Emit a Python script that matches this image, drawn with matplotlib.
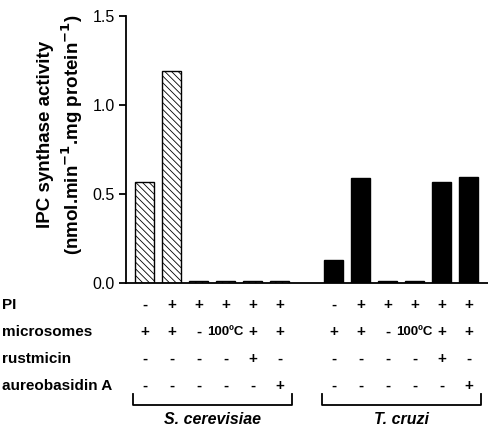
import matplotlib
matplotlib.use("Agg")
import matplotlib.pyplot as plt
import numpy as np

plt.rcParams["font.family"] = ["Liberation Sans", "DejaVu Sans"]
plt.rcParams["hatch.linewidth"] = 0.6
plt.rcParams["hatch.color"] = "#444444"

# data
yeast_values = [0.57, 1.19, 0.01, 0.01, 0.01, 0.01]
cruzi_values = [0.13, 0.59, 0.01, 0.01, 0.565, 0.595]
groups = ["S. cerevisiae", "T. cruzi"]
row_labels = ["PI", "microsomes", "rustmicin", "aureobasidin A"]
conditions = [
    ["-", "+", "+", "+", "+", "+"],
    ["+", "+", "-", "100ºC", "+", "+"],
    ["-", "-", "-", "-", "+", "-"],
    ["-", "-", "-", "-", "-", "+"],
]
yticks = [0.0, 0.5, 1.0, 1.5]

W, H = 488, 428
fig = plt.figure(figsize=(W / 100, H / 100), dpi=100)
ax_bottom, ax_top = 283, 16
ax = fig.add_axes([126 / W, 1 - ax_bottom / H, 1 - 126 / W, (ax_bottom - ax_top) / H])

x_yeast = np.arange(6)
x_cruzi = np.arange(6) + 7
ax.bar(x_yeast, yeast_values, width=0.7, facecolor="white", edgecolor="black",
       linewidth=1.0, hatch="\\\\\\\\\\")
ax.bar(x_cruzi, cruzi_values, width=0.7, facecolor="black", edgecolor="black", linewidth=1.0)

ax.set_xlim(-0.685, 12.72)
ax.set_ylim(0, 1.5)
ax.set_yticks(yticks)
ax.set_yticklabels([f"{v:.1f}" for v in yticks], fontsize=11.5)
ax.set_xticks([])
for side in ("top", "right"):
    ax.spines[side].set_visible(False)
ax.spines["left"].set_linewidth(1.3)
ax.spines["bottom"].set_linewidth(1.3)
ax.tick_params(axis="y", direction="out", length=5, width=1.3, pad=3)

ax.set_ylabel("IPC synthase activity\n(nmol.min$^{\\mathbf{-1}}$.mg protein$^{\\mathbf{-1}}$)",
              fontsize=13.5, fontweight="bold", linespacing=1.3)
ax.yaxis.set_label_coords(-41 / (W - 126), 0.555)


def yax(ypix):
    return (ax_bottom - ypix) / (ax_bottom - ax_top)


row_y = [305, 332, 359, 386]
trans = ax.get_xaxis_transform()
for label, yp in zip(row_labels, row_y):
    fig.text(2 / W, 1 - yp / H, label, fontsize=11, fontweight="bold", ha="left", va="center")
for cond, yp in zip(conditions, row_y):
    for xs in (x_yeast, x_cruzi):
        for xv, c in zip(xs, cond):
            size = 9.5 if len(c) > 1 else 11
            ax.text(xv, yax(yp), c, transform=trans, ha="center", va="center",
                    fontsize=size, fontweight="bold", clip_on=False)

# group brackets
for xs, name in zip((x_yeast, x_cruzi), groups):
    x0, x1 = xs[0] - 0.43, xs[-1] + 0.45
    ax.plot([x0, x0, x1, x1], [yax(394), yax(405), yax(405), yax(394)], transform=trans,
            color="black", linewidth=1.3, clip_on=False)
    ax.text((x0 + x1) / 2, yax(420), name, transform=trans, ha="center", va="center",
            fontsize=11.5, fontweight="bold", style="italic", clip_on=False)

fig.savefig("out.png", dpi=100)
